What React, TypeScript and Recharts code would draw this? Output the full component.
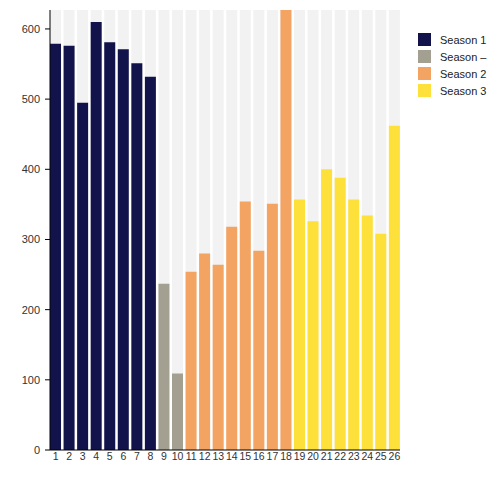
import React from "react";
import { BarChart, Bar, Cell, XAxis, YAxis } from "recharts";

const episodes = [
  "1", "2", "3", "4", "5", "6", "7", "8", "9", "10", "11", "12", "13",
  "14", "15", "16", "17", "18", "19", "20", "21", "22", "23", "24", "25", "26",
];

const views = [
  579, 576, 495, 610, 581, 571, 551, 532, 237, 109, 254, 280, 264,
  318, 354, 284, 351, 627, 357, 326, 400, 388, 357, 334, 308, 462,
];

const seasonOf = [
  "Season 1", "Season 1", "Season 1", "Season 1", "Season 1", "Season 1",
  "Season 1", "Season 1", "Season –", "Season –", "Season 2", "Season 2",
  "Season 2", "Season 2", "Season 2", "Season 2", "Season 2", "Season 2",
  "Season 3", "Season 3", "Season 3", "Season 3", "Season 3", "Season 3",
  "Season 3", "Season 3",
];

const seasons = ["Season 1", "Season –", "Season 2", "Season 3"];
const seasonColors = ["#12134b", "#a3a091", "#f3a462", "#fde03a"];

const yTicks = [0, 100, 200, 300, 400, 500, 600];

const data = episodes.map((ep, i) => ({
  episode: ep,
  value: views[i],
  season: seasonOf[i],
}));

const colorFor = (s: string) => seasonColors[seasons.indexOf(s)];

function SeasonLegend() {
  return (
    <div
      style={{
        position: "absolute",
        left: 410,
        top: 23,
        fontFamily: "Liberation Sans, Arial, sans-serif",
        fontSize: 11,
      }}
    >
      {seasons.map((s, i) => (
        <div
          key={s}
          style={{ display: "flex", alignItems: "center", height: 17, color: "#222" }}
        >
          <span
            style={{
              width: 13,
              height: 13,
              background: seasonColors[i],
              display: "inline-block",
              marginRight: 9,
            }}
          />
          {s}
        </div>
      ))}
    </div>
  );
}

export default function App() {
  const font = { fontFamily: "Liberation Sans, Arial, sans-serif", fontSize: 11, fill: "#333" };
  return (
    <div style={{ position: "relative", width: 492, height: 480 }}>
      <BarChart
        width={492}
        height={480}
        data={data}
        margin={{ top: 2, right: 100, bottom: 8, left: 0 }}
        barCategoryGap="9%"
      >
        <XAxis
          dataKey="episode"
          interval={0}
          tickLine={false}
          tickSize={0}
          tickMargin={3}
          height={30}
          padding={{ left: -1.2, right: -1.2 }}
          axisLine={{ stroke: "#000" }}
          tick={{ ...font, fontSize: 10.5 }}
        />
        <YAxis
          width={42}
          domain={[0, "dataMax"]}
          ticks={yTicks}
          tickSize={5}
          tickMargin={5}
          axisLine={{ stroke: "#000" }}
          tickLine={{ stroke: "#000" }}
          tick={font}
        />
        <Bar dataKey="value" background={{ fill: "#f2f2f2" }} isAnimationActive={false}>
          {data.map((d, i) => (
            <Cell key={`cell-${i}`} fill={colorFor(d.season)} />
          ))}
        </Bar>
      </BarChart>
      <SeasonLegend />
    </div>
  );
}
